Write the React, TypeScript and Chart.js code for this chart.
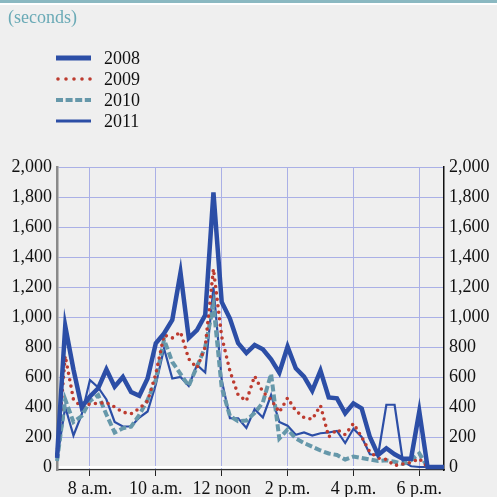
import React, { useEffect, useRef } from "react";
import { Chart, registerables } from "chart.js";

Chart.register(...registerables);

const times = [
  "7:00", "7:15", "7:30", "7:45", "8:00", "8:15", "8:30", "8:45",
  "9:00", "9:15", "9:30", "9:45", "10:00", "10:15", "10:30", "10:45",
  "11:00", "11:15", "11:30", "11:45", "12:00", "12:15", "12:30", "12:45",
  "13:00", "13:15", "13:30", "13:45", "14:00", "14:15", "14:30", "14:45",
  "15:00", "15:15", "15:30", "15:45", "16:00", "16:15", "16:30", "16:45",
  "17:00", "17:15", "17:30", "17:45", "18:00", "18:15", "18:30", "18:45",
];

const tickLabels: Record<string, string> = {
  "8:00": "8 a.m.",
  "10:00": "10 a.m.",
  "12:00": "12 noon",
  "14:00": "2 p.m.",
  "16:00": "4 p.m.",
  "18:00": "6 p.m.",
};

const yTicks = [0, 200, 400, 600, 800, 1000, 1200, 1400, 1600, 1800, 2000];

const s2008 = [
  60, 940, 650, 400, 470, 525, 650, 535, 600, 500, 475, 590,
  825, 890, 980, 1295, 860, 913, 1013, 1830, 1100, 990, 825, 760,
  813, 785, 718, 629, 802, 658, 602, 509, 642, 464, 458, 358,
  424, 391, 200, 80, 125, 85, 55, 55, 370, 0, 0, 0,
];
const s2009 = [
  80, 740, 450, 400, 420, 425, 430, 400, 365, 355, 390, 440,
  620, 880, 860, 900, 720, 660, 800, 1320, 870, 640, 480, 440,
  607, 500, 450, 365, 460, 375, 330, 318, 410, 200, 250, 215,
  290, 200, 100, 60, 50, 10, 20, 30, 55, 0, 0, 0,
];
const s2010 = [
  40, 450, 300, 340, 440, 480, 350, 230, 258, 269, 347, 447,
  580, 850, 700, 620, 540, 670, 800, 1080, 530, 340, 305, 310,
  360, 430, 620, 190, 250, 190, 160, 135, 110, 90, 80, 50,
  70, 60, 50, 40, 45, 35, 20, 45, 90, 0, 0, 0,
];
const s2011 = [
  50, 400, 210, 350, 580, 530, 450, 300, 270, 270, 330, 370,
  550, 790, 590, 600, 540, 680, 630, 1200, 580, 325, 325, 260,
  385, 330, 480, 300, 275, 215, 230, 210, 225, 230, 240, 160,
  255, 200, 85, 80, 415, 415, 40, 5, 0, 0, 0, 0,
];

const seriesNames = ["2008", "2009", "2010", "2011"];

const BLUE = "#2c4ea6";
const RED = "#bd3b2f";
const TEAL = "#6698aa";
const GRID = "#aab0e6";
const FONT = '"Liberation Serif", "Times New Roman", serif';

const styles = [
  { color: BLUE, width: 4.5, dash: [] as number[], cap: "butt" as CanvasLineCap, legendWidth: 5, legendDash: [] as number[] },
  { color: RED, width: 3.6, dash: [0, 6.5], cap: "round" as CanvasLineCap, legendWidth: 3.6, legendDash: [0, 8] },
  { color: TEAL, width: 4, dash: [7, 3], cap: "butt" as CanvasLineCap, legendWidth: 4, legendDash: [7, 2.6] },
  { color: BLUE, width: 2.2, dash: [] as number[], cap: "butt" as CanvasLineCap, legendWidth: 3, legendDash: [] as number[] },
];

const decorPlugin = {
  id: "decor",
  beforeDraw(chart: any) {
    const { ctx, width, height } = chart;
    ctx.save();
    ctx.fillStyle = "#efefef";
    ctx.fillRect(0, 0, width, height);
    ctx.fillStyle = "#8ab8c1";
    ctx.fillRect(0, 0, width, 3);
    ctx.fillStyle = "#ffffff";
    ctx.fillRect(0, 3, width, 2);
    ctx.font = `18px ${FONT}`;
    ctx.fillStyle = "#6aaab6";
    ctx.textBaseline = "middle";
    ctx.textAlign = "left";
    ctx.fillText("(seconds)", 8, 18);
    const rows = [58, 79, 100, 121];
    seriesNames.forEach((name, i) => {
      const st = styles[i];
      const y = rows[i];
      ctx.beginPath();
      ctx.strokeStyle = st.color;
      ctx.lineWidth = st.legendWidth;
      ctx.lineCap = st.cap;
      ctx.setLineDash(st.legendDash);
      if (st.cap === "round") {
        ctx.moveTo(58, y);
        ctx.lineTo(91, y);
      } else {
        ctx.moveTo(56, y);
        ctx.lineTo(91, y);
      }
      ctx.stroke();
      ctx.setLineDash([]);
      ctx.fillStyle = "#111";
      ctx.fillText(name, 104, y + 1);
    });
    ctx.restore();
  },
};

export default function App() {
  const ref = useRef<HTMLCanvasElement | null>(null);
  useEffect(() => {
    if (!ref.current) return;
    const seriesData = [s2008, s2009, s2010, s2011];
    const chart = new Chart(ref.current, {
      type: "line",
      data: {
        labels: times,
        datasets: seriesNames.map((name, i) => ({
          label: name,
          data: seriesData[i],
          borderColor: styles[i].color,
          borderWidth: styles[i].width,
          borderDash: styles[i].dash,
          borderCapStyle: styles[i].cap,
          borderJoinStyle: "miter" as CanvasLineJoin,
          pointRadius: 0,
          tension: 0,
          fill: false,
          yAxisID: "y",
        })),
      },
      options: {
        animation: false,
        responsive: false,
        maintainAspectRatio: false,
        layout: { padding: { top: 167, left: 0, right: 0, bottom: 0 } },
        plugins: {
          legend: { display: false },
          tooltip: { enabled: false },
          title: { display: false },
        },
        scales: {
          x: {
            type: "category",
            offset: false,
            ticks: {
              autoSkip: false,
              maxRotation: 0,
              minRotation: 0,
              padding: 2,
              color: "#111",
              font: { family: FONT, size: 18 },
              callback: (_v: any, i: number) => tickLabels[times[i]] ?? "",
            },
            grid: {
              color: (c: any) => (tickLabels[times[c.index]] ? GRID : "rgba(0,0,0,0)"),
              tickColor: (c: any) => (tickLabels[times[c.index]] ? "#222" : "rgba(0,0,0,0)"),
              tickLength: 6,
              drawTicks: true,
              lineWidth: 1,
            },
            border: { color: "#333", width: 1.2 },
            afterFit: (a: any) => {
              a.height = 27;
            },
          },
          y: {
            position: "left",
            min: -20,
            max: 2000,
            afterBuildTicks: (a: any) => {
              a.ticks = yTicks.map((v) => ({ value: v }));
            },
            ticks: {
              padding: 5,
              color: "#111",
              font: { family: FONT, size: 18 },
              callback: (v: any) => Number(v).toLocaleString("en-US"),
            },
            grid: {
              color: (c: any) => (c.tick && c.tick.value === 0 ? "#ffffff" : GRID),
              lineWidth: (c: any) => (c.tick && c.tick.value === 0 ? 2 : 1),
              drawTicks: false,
            },
            border: { color: "#8a8a8a", width: 2.5 },
            afterFit: (a: any) => {
              a.width = 57;
            },
          },
          y2: {
            position: "right",
            min: -20,
            max: 2000,
            afterBuildTicks: (a: any) => {
              a.ticks = yTicks.map((v) => ({ value: v }));
            },
            ticks: {
              padding: 5,
              color: "#111",
              font: { family: FONT, size: 18 },
              callback: (v: any) => Number(v).toLocaleString("en-US"),
            },
            grid: { color: "rgba(0,0,0,0)", drawTicks: false },
            border: { color: "#111", width: 1.5 },
            afterFit: (a: any) => {
              a.width = 53;
            },
          },
        },
      },
      plugins: [decorPlugin],
    });
    return () => chart.destroy();
  }, []);
  return (
    <div style={{ position: "absolute", left: 0, top: 0, width: 497, height: 497 }}>
      <canvas ref={ref} width={497} height={497} style={{ width: 497, height: 497, display: "block" }} />
    </div>
  );
}
